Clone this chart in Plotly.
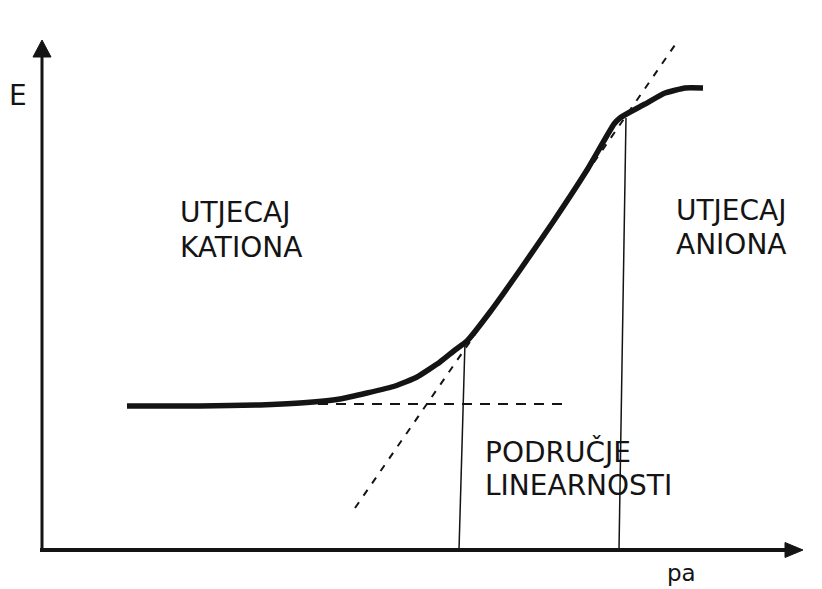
import plotly.graph_objects as go

# Data (x: pa, y: E); origin at axis corner
curve_x = [85, 158, 218, 258, 298, 325, 353, 375, 398, 413, 425, 448, 478, 511,
           545, 572, 578, 588, 603, 623, 643, 661]
curve_y = [144, 144, 145, 147, 151, 157, 164, 173, 188, 200, 209, 238, 280, 328,
           380, 426, 432, 438, 446, 457, 462, 462]

baseline_x = [258, 528]
baseline_y = [146, 146]

tangent_x = [313, 633]
tangent_y = [42, 505]

vline1_x = [423, 417]
vline1_y = [208, 0]
vline2_x = [584, 577]
vline2_y = [432, 0]

labels = [
    ("UTJECAJ", 136, 338),
    ("KATIONA", 136, 303),
    ("UTJECAJ", 632, 340),
    ("ANIONA", 632, 306),
    ("PODRUČJE", 441, 98),
    ("LINEARNOSTI", 441, 65),
]

INK = "#141414"
fig = go.Figure()

# axes
fig.add_trace(go.Scatter(x=[0, 0], y=[-2, 494], mode="lines",
                         line=dict(color=INK, width=3), hoverinfo="skip"))
fig.add_trace(go.Scatter(x=[-2, 744], y=[0, 0], mode="lines",
                         line=dict(color=INK, width=4), hoverinfo="skip"))
fig.add_trace(go.Scatter(x=[-9, 0, 9, -9], y=[493, 510, 493, 493], mode="lines",
                         fill="toself", fillcolor=INK, line=dict(color=INK, width=1),
                         hoverinfo="skip"))
fig.add_trace(go.Scatter(x=[743, 761, 743, 743], y=[7.5, 0, -7.5, 7.5], mode="lines",
                         fill="toself", fillcolor=INK, line=dict(color=INK, width=1),
                         hoverinfo="skip"))

# guide lines
fig.add_trace(go.Scatter(x=baseline_x, y=baseline_y, mode="lines",
                         line=dict(color=INK, width=2, dash="10px,8px"), hoverinfo="skip"))
fig.add_trace(go.Scatter(x=tangent_x, y=tangent_y, mode="lines",
                         line=dict(color=INK, width=2, dash="7px,8px"), hoverinfo="skip"))
fig.add_trace(go.Scatter(x=vline1_x, y=vline1_y, mode="lines",
                         line=dict(color=INK, width=1.5), hoverinfo="skip"))
fig.add_trace(go.Scatter(x=vline2_x, y=vline2_y, mode="lines",
                         line=dict(color=INK, width=1.5), hoverinfo="skip"))

# main curve
fig.add_trace(go.Scatter(x=curve_x, y=curve_y, mode="lines",
                         line=dict(color=INK, width=5.5, shape="spline", smoothing=0.4),
                         hoverinfo="skip"))

font = dict(family="DejaVu Sans", size=28, color=INK)
ann = []
for t, x, y in labels:
    ann.append(dict(text=t, x=x, y=y, xref="x", yref="y", xanchor="left",
                    yanchor="middle", showarrow=False, font=font))
ann.append(dict(text="E", x=-35, y=455, xref="x", yref="y", xanchor="left",
                yanchor="middle", showarrow=False, font=font))
ann.append(dict(text="pa", x=623, y=-38, xref="x", yref="y", xanchor="left",
                yanchor="bottom", showarrow=False,
                font=dict(family="DejaVu Sans", size=23, color=INK)))

fig.update_layout(
    width=822, height=589,
    margin=dict(l=0, r=0, t=0, b=0),
    paper_bgcolor="white", plot_bgcolor="white",
    showlegend=False,
    xaxis=dict(range=[-42, 780], visible=False, fixedrange=True),
    yaxis=dict(range=[-39, 550], visible=False, fixedrange=True),
    annotations=ann,
)

fig.write_html("out.html", post_script="document.body.style.margin='0';",
               config={"displayModeBar": False})
